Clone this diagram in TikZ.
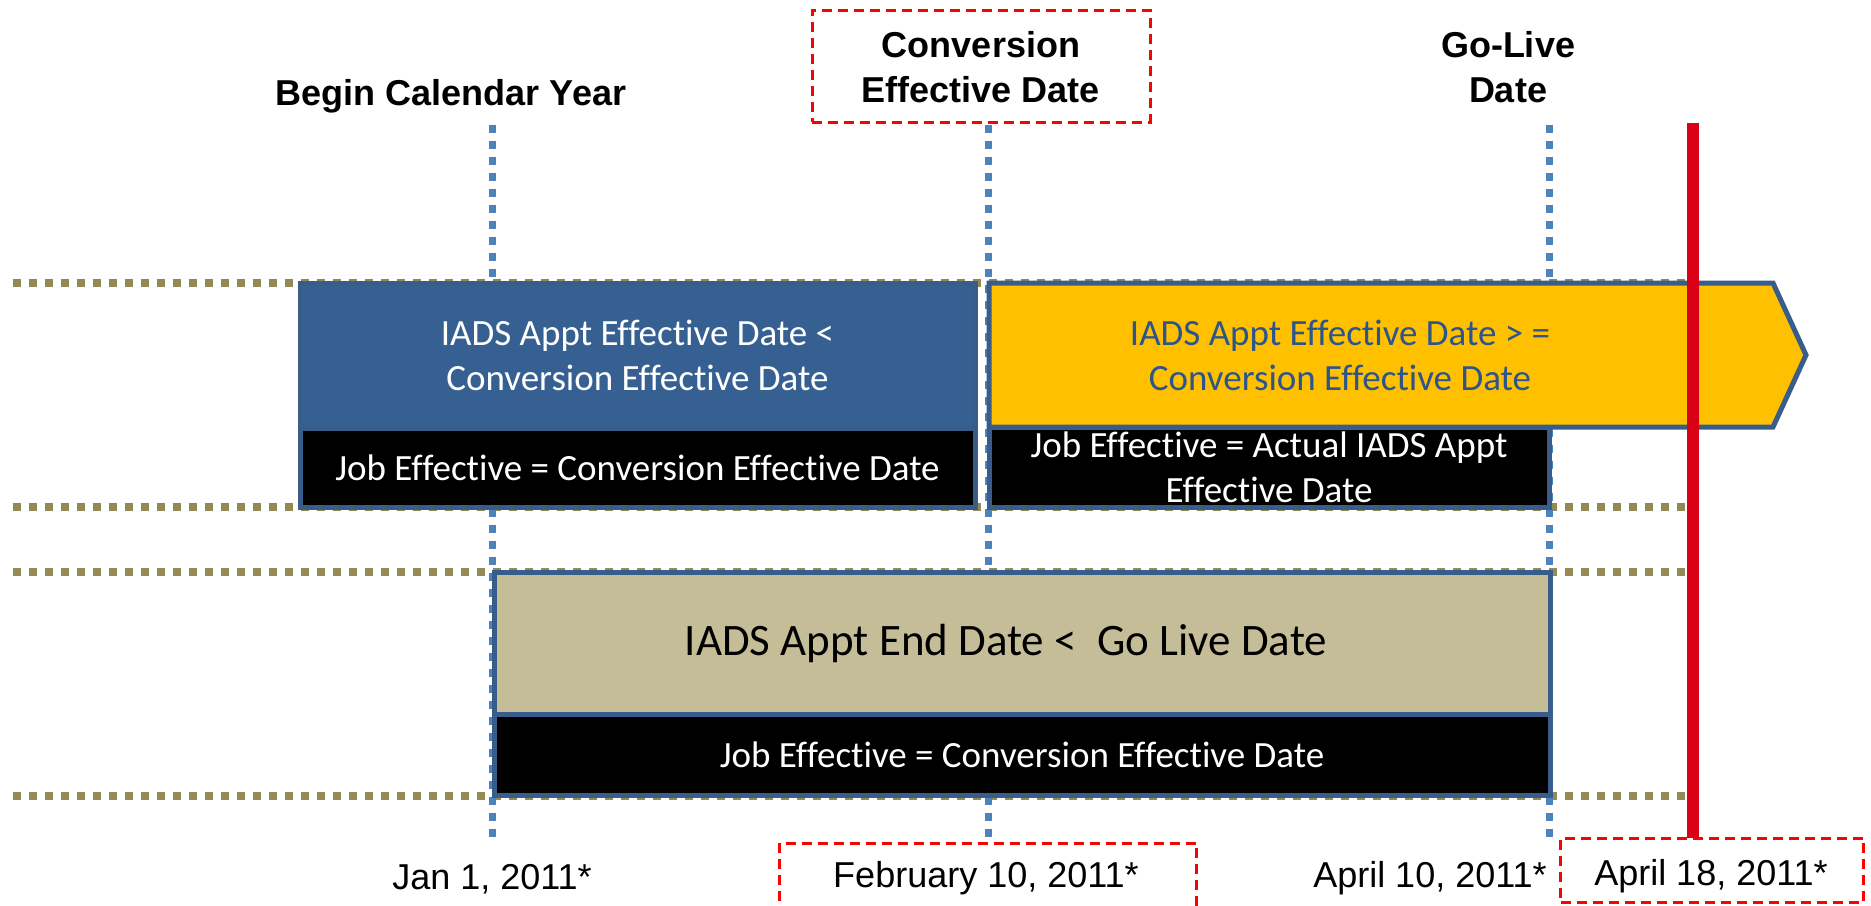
\documentclass[tikz,border=0pt]{standalone}
\usepackage{fontspec}
\setmainfont{Liberation Sans}
\newfontfamily\calibri[Ligatures=NoCommon]{Carlito}
\definecolor{olivedots}{RGB}{148,138,84}
\definecolor{dotblue}{RGB}{79,129,189}
\definecolor{boxblue}{RGB}{56,93,138}
\definecolor{bluefill}{RGB}{55,96,146}
\definecolor{yellowfill}{RGB}{255,192,0}
\definecolor{tanfill}{RGB}{196,189,151}
\definecolor{ytext}{RGB}{45,85,140}
\definecolor{redline}{RGB}{218,0,22}
\definecolor{redbox}{RGB}{255,0,0}
\begin{document}
\begin{tikzpicture}[x=1pt,y=-1pt,
  olivedot/.style={draw=olivedots, line width=8pt, dash pattern=on 8pt off 8pt},
  bluedot/.style={draw=dotblue, line width=7pt, dash pattern=on 8pt off 8pt},
  redframe/.style={draw=redbox, line width=3pt, dash pattern=on 10pt off 6pt, inner sep=0pt, outer sep=0pt},
  block/.style={draw=boxblue, line width=5pt, inner sep=0pt, outer sep=0pt, anchor=north west, align=center, font=\calibri\fontsize{37}{45}\selectfont},
  head/.style={font=\bfseries\fontsize{36}{45}\selectfont, align=center, anchor=base, inner sep=0pt},
  datetxt/.style={font=\fontsize{36}{43}\selectfont, anchor=base, inner sep=0pt}
]
\useasboundingbox (0,0) rectangle (1871,905);

% horizontal olive dotted guides
\coordinate (h1l) at (13,283);  \coordinate (h1r) at (1687,283);
\coordinate (h2l) at (13,507);  \coordinate (h2r) at (1687,507);
\coordinate (h3l) at (13,572);  \coordinate (h3r) at (1687,572);
\coordinate (h4l) at (13,796);  \coordinate (h4r) at (1687,796);
\draw[olivedot] (h1l) -- (h1r);
\draw[olivedot] (h2l) -- (h2r);
\draw[olivedot] (h3l) -- (h3r);
\draw[olivedot] (h4l) -- (h4r);

% vertical blue dotted guides
\coordinate (v1t) at (492,125);  \coordinate (v1b) at (492,838);
\coordinate (v2t) at (988,125);  \coordinate (v2b) at (988,838);
\coordinate (v3t) at (1549,125); \coordinate (v3b) at (1549,838);
\draw[bluedot] (v1t) -- (v1b);
\draw[bluedot] (v2t) -- (v2b);
\draw[bluedot] (v3t) -- (v3b);

% blue block
\node[block, fill=bluefill, text=white, minimum width=675pt, minimum height=145pt] (bluetop) at (300,283)
  {IADS Appt Effective Date <\\Conversion Effective Date};
\node[block, fill=black, text=white, minimum width=675pt, minimum height=79pt] (bluejob) at (300,428)
  {Job Effective = Conversion Effective Date};

% yellow arrow
\coordinate (ya) at (989,283);
\coordinate (yb) at (1773,283);
\coordinate (yc) at (1806,355);
\coordinate (yd) at (1773,427);
\coordinate (ye) at (989,427);
\draw[draw=boxblue, line width=5pt, fill=yellowfill, line join=miter] (ya) -- (yb) -- (yc) -- (yd) -- (ye) -- cycle;
\node[font=\calibri\fontsize{37}{45}\selectfont, text=ytext, align=center, anchor=base, inner sep=0pt] (yellowtxt) at (1340,390)
  {IADS Appt Effective Date > =\\Conversion Effective Date};
\node[block, fill=black, text=white, minimum width=560pt, minimum height=80pt] (yellowjob) at (989,427)
  {Job Effective = Actual IADS Appt\\Effective Date};

% tan block
\node[block, fill=tanfill, text=black, minimum width=1056pt, minimum height=142pt, font=\calibri\fontsize{45}{52}\selectfont] (tanbox) at (494,572)
  {IADS Appt End Date <\ \ Go Live Date\hspace*{32pt}};
\node[block, fill=black, text=white, minimum width=1056pt, minimum height=81pt] (tanjob) at (494,714)
  {Job Effective = Conversion Effective Date};

% headers
\node[head] (begincal) at (451,105) {Begin Calendar Year};
\node[redframe, minimum width=338pt, minimum height=112pt] (convbox) at (981,66) {};
\node[head] (convtxt) at (981,102) {Conversion\\Effective Date};
\node[head] (golive) at (1508,102) {Go-Live\\Date};

% dates
\node[datetxt] (jan) at (492,889) {Jan 1, 2011*};
\node[redframe, minimum width=417pt, minimum height=110pt, anchor=north] (febbox) at (988,843) {};
\node[datetxt] (feb) at (986,887) {February 10, 2011*};
\node[datetxt] (apr10) at (1430,887) {April 10, 2011*};
\node[redframe, minimum width=303pt, minimum height=64pt, anchor=north] (aprbox) at (1712,838) {};
\node[datetxt] (apr18) at (1711,885) {April 18, 2011*};

% red current-date line
\coordinate (redtop) at (1693,123);
\draw[draw=redline, line width=12pt] (redtop) -- (redtop |- aprbox.north);
\end{tikzpicture}
\end{document}
